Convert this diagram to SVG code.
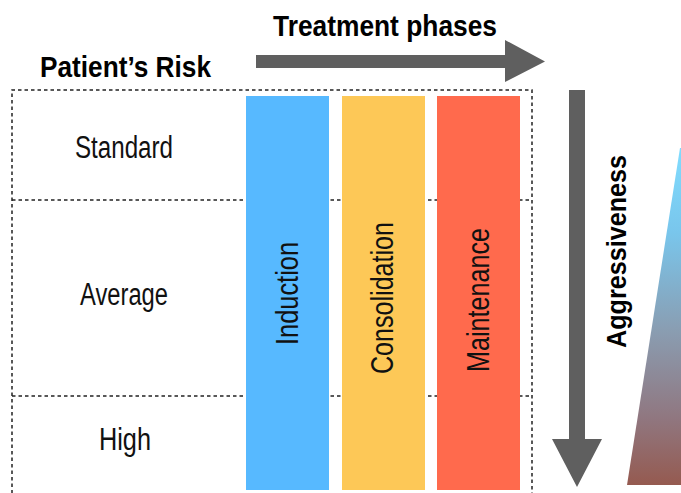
<svg xmlns="http://www.w3.org/2000/svg" width="681" height="493" viewBox="0 0 681 493">
<style>
.title{font-family:"Liberation Sans Narrow","Liberation Sans",Arial,sans-serif;font-weight:bold;font-size:30px;fill:#000}
.row{font-family:"Liberation Sans Narrow","Liberation Sans",Arial,sans-serif;font-size:31px;fill:#111;text-anchor:middle}
.bar{font-family:"Liberation Sans Narrow","Liberation Sans",Arial,sans-serif;font-size:32px;fill:#111;text-anchor:middle}
.dash{stroke:#222;stroke-width:1.5;stroke-dasharray:3.5,3;fill:none}
.arrow{fill:#5f5f5f}
</style>
<defs>
<linearGradient id="agg" x1="0" y1="148" x2="0" y2="485" gradientUnits="userSpaceOnUse">
<stop offset="0" stop-color="#80dcff"/>
<stop offset="0.25" stop-color="#79c6ec"/>
<stop offset="0.55" stop-color="#8a9cb0"/>
<stop offset="0.8" stop-color="#907780"/>
<stop offset="1" stop-color="#955a50"/>
</linearGradient>
</defs>
<rect width="681" height="493" fill="#fff"/>
<g id="risk-table">
<path class="dash" d="M12 500 V90 H532 V500"/>
<path class="dash" d="M12 200 H532 M12 396 H532"/>
</g>
<g id="title-phases"><text class="title" x="273" y="36" textLength="224" lengthAdjust="spacingAndGlyphs">Treatment phases</text></g>
<g id="title-risk"><text class="title" x="40" y="77" textLength="171" lengthAdjust="spacingAndGlyphs">Patient’s Risk</text></g>
<g id="row-standard"><text class="row" x="124" y="158" textLength="98" lengthAdjust="spacingAndGlyphs">Standard</text></g>
<g id="row-average"><text class="row" x="124" y="305" textLength="88" lengthAdjust="spacingAndGlyphs">Average</text></g>
<g id="row-high"><text class="row" x="125" y="450" textLength="52" lengthAdjust="spacingAndGlyphs">High</text></g>
<g id="induction">
<rect x="246" y="96" width="83" height="394" fill="#57b9ff"/>
<text class="bar" transform="translate(298,293.5) rotate(-90)" textLength="103" lengthAdjust="spacingAndGlyphs">Induction</text>
</g>
<g id="consolidation">
<rect x="342" y="96" width="83" height="394" fill="#fdc857"/>
<text class="bar" transform="translate(393,298) rotate(-90)" textLength="152" lengthAdjust="spacingAndGlyphs">Consolidation</text>
</g>
<g id="maintenance">
<rect x="437" y="96" width="83" height="394" fill="#ff6a4d"/>
<text class="bar" transform="translate(489,300) rotate(-90)" textLength="144" lengthAdjust="spacingAndGlyphs">Maintenance</text>
</g>
<g id="aggressiveness">
<polygon points="680,148 681,148 681,485 627,485" fill="url(#agg)"/>
<text class="title" transform="translate(626,251.5) rotate(-90)" text-anchor="middle" style="font-size:27px" textLength="193" lengthAdjust="spacingAndGlyphs">Aggressiveness</text>
</g>
<g id="connectors">
<polygon class="arrow" points="256,55 505,55 505,40 545,61.5 505,82 505,68 256,68"/>
<polygon class="arrow" points="569,90 585,90 585,439 602,439 577,487 552,439 569,439"/>
</g>
</svg>
